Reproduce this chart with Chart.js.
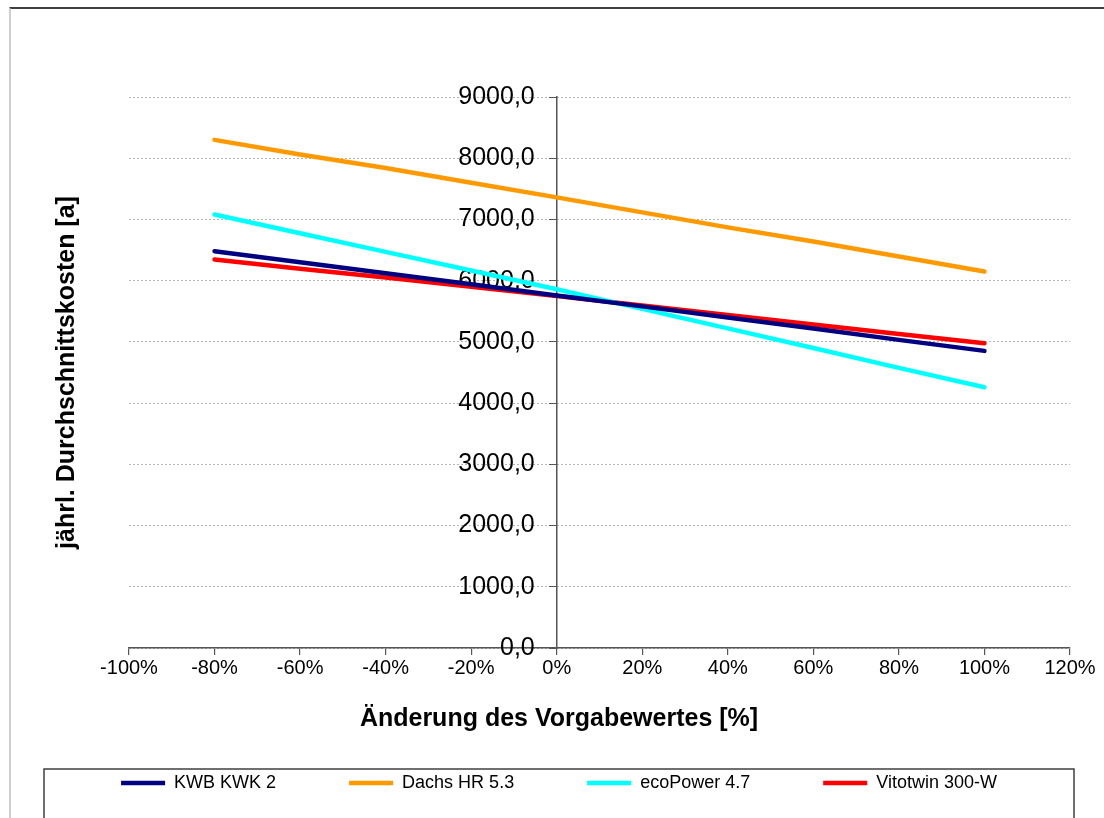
<!DOCTYPE html>
<html lang="de">
<head>
<meta charset="utf-8">
<title>jährl. Durchschnittskosten</title>
<script src="https://cdn.jsdelivr.net/npm/chart.js@4/dist/chart.umd.min.js"></script>
<style>
  html, body { margin: 0; padding: 0; background: #fff; overflow: hidden; }
  #wrap { position: relative; width: 1104px; height: 818px; }
  #c { position: absolute; left: 0; top: 0; }
  #frame { position: absolute; left: 9px; top: 7px; right: 0; bottom: 0;
           border-top: 2px solid #404040; border-left: 2px solid #cfcfcf; pointer-events: none; }
</style>
</head>
<body>
<div id="wrap">
  <canvas id="c" width="1104" height="818"></canvas>
  <div id="frame"></div>
</div>
<script>
// Änderung des Vorgabewertes in %
const changes = [-80, -60, -40, -20, 0, 20, 40, 60, 80, 100];

// jährliche Durchschnittskosten je Anlage
const kwbKwk2     = [6482, 6300, 6120, 5940, 5758, 5580, 5400, 5218, 5033, 4853];
const dachsHr53   = [8300, 8060, 7840, 7600, 7360, 7115, 6870, 6640, 6395, 6149];
const ecoPower47  = [7080, 6775, 6470, 6165, 5860, 5540, 5220, 4900, 4575, 4260];
const vitotwin300 = [6345, 6195, 6050, 5900, 5750, 5595, 5440, 5285, 5130, 4979];

const seriesNames  = ['KWB KWK 2', 'Dachs HR 5.3', 'ecoPower 4.7', 'Vitotwin 300-W'];
const seriesValues = [kwbKwk2, dachsHr53, ecoPower47, vitotwin300];
const seriesColors = ['#000080', '#FF9900', '#00FFFF', '#FF0000'];

// axis ranges
const xRange = { min: -100, max: 120, step: 20 };
const yRange = { min: 0, max: 9000, step: 1000 };

const FONT = "'Liberation Sans', Arial, Helvetica, sans-serif";

const datasets = seriesNames.map((name, i) => ({
  label: name,
  data: changes.map((x, k) => ({ x: x, y: seriesValues[i][k] })),
  borderColor: seriesColors[i],
  backgroundColor: seriesColors[i],
  borderWidth: 4.5,
  borderCapStyle: 'round',
  borderJoinStyle: 'round',
  pointRadius: 0,
  pointHoverRadius: 0,
  pointStyle: 'line',
  tension: 0,
  fill: false,
  yAxisID: 'y'
}));

// value labels of the centred y axis sit a little left of its tick marks
const yLabelGap = {
  id: 'yLabelGap',
  beforeDraw(chart) {
    const s = chart.scales.y;
    const gap = 22;
    s.getLabelItems(chart.chartArea).forEach(item => {
      if (!item._shifted) {
        item.options.translation[0] -= gap;
        item._shifted = true;
      }
    });
  }
};

// legend sits in a framed box below the axis title
const legendFrame = {
  id: 'legendFrame',
  afterLayout(chart) {
    const lg = chart.legend;
    const lift = 37;
    lg.top -= lift;
    lg.height = lg.bottom - lg.top;
  },
  afterDraw(chart) {
    const lg = chart.legend;
    const ctx = chart.ctx;
    const pad = lg.options.labels.padding;
    const top = lg.top + pad - 5;
    ctx.save();
    ctx.strokeStyle = '#404040';
    ctx.lineWidth = 1.5;
    ctx.strokeRect(lg.left - 4, top, (lg.right - lg.left) + 8, 200);
    ctx.restore();
  }
};

new Chart(document.getElementById('c'), {
  type: 'line',
  data: { datasets },
  plugins: [yLabelGap, legendFrame],
  options: {
    responsive: false,
    animation: false,
    events: [],
    layout: { padding: { left: 48, right: 34, top: 97, bottom: 0 } },
    plugins: {
      tooltip: { enabled: false },
      title: {
        display: true,
        position: 'bottom',
        weight: 500,
        text: 'Änderung des Vorgabewertes [%]',
        color: '#000',
        font: { family: FONT, size: 25, weight: 'bold' },
        padding: { top: 23, bottom: 4 }
      },
      legend: {
        position: 'bottom',
        maxHeight: 80,
        labels: {
          usePointStyle: true,
          pointStyle: 'line',
          pointStyleWidth: 44,
          padding: 73,
          color: '#000',
          font: { family: FONT, size: 18 }
        }
      }
    },
    scales: {
      x: {
        type: 'linear',
        position: 'bottom',
        min: xRange.min,
        max: xRange.max,
        ticks: {
          stepSize: xRange.step,
          color: '#000',
          padding: 1,
          maxRotation: 0,
          font: { family: FONT, size: 20 },
          callback: v => v + '%'
        },
        grid: { drawOnChartArea: false, drawTicks: true, tickLength: 7, tickColor: '#555', lineWidth: 1.2 },
        border: { display: true, color: '#555', width: 1.5 }
      },
      y: {
        type: 'linear',
        position: { x: 0 },
        min: yRange.min,
        max: yRange.max,
        ticks: {
          stepSize: yRange.step,
          color: '#000',
          font: { family: FONT, size: 25 },
          callback: v => Number(v).toFixed(1).replace('.', ',')
        },
        grid: { color: '#b4b4b4', lineWidth: 1, drawTicks: true, tickLength: 7, tickColor: '#555', tickBorderDash: [] },
        border: { display: true, color: '#555', width: 1.5, dash: [2, 2] }
      },
      yTitle: {
        type: 'linear',
        position: 'left',
        display: true,
        ticks: { display: false },
        grid: { display: false, drawTicks: false },
        border: { display: false },
        title: {
          display: true,
          text: 'jährl. Durchschnittskosten [a]',
          color: '#000',
          font: { family: FONT, size: 25, weight: 'bold' },
          padding: { top: 4, bottom: 47 }
        }
      }
    }
  }
});
</script>
</body>
</html>
